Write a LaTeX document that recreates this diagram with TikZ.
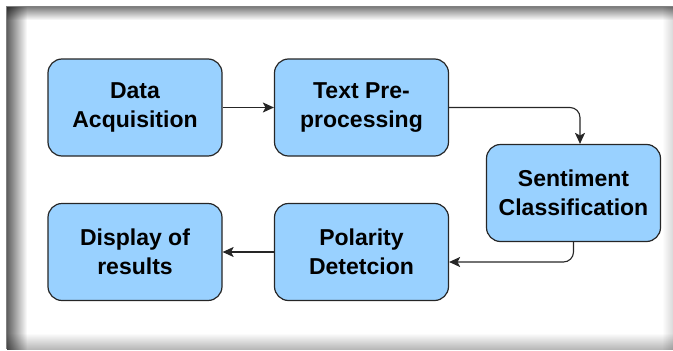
\documentclass[tikz,border=0pt]{standalone}
\usepackage{fontspec}
\setmainfont{Liberation Sans}
\usepackage{tikz}
\usetikzlibrary{arrows.meta}

\definecolor{boxblue}{HTML}{99D1FF}

\begin{document}
\begin{tikzpicture}[x=1pt, y=-1pt, >={Stealth[length=11pt, width=10pt, inset=2.5pt]},
	stagebox/.style={draw=black!85, line width=1.2pt, fill=boxblue, rounded corners=14pt,
		minimum width=174pt, minimum height=97pt, inner sep=0pt, align=center,
		font=\fontsize{23}{29}\selectfont\bfseries},
	flow/.style={->, line width=1.1pt, black!85}]
		\useasboundingbox (0,0) rectangle (673,351);
		% frame with shadows
		\begin{scope}[blend mode=multiply]
			\shade[top color=white, bottom color=black!28] (7,333) rectangle (673,349);
			\shade[left color=white, right color=black!15] (662,7) rectangle (673,349);
			\shade[top color=black!50, bottom color=white] (7,7) rectangle (673,20);
			\shade[left color=black!62, right color=white] (7,7) rectangle (27,349);
		\end{scope}
		\draw[black!50, line width=1pt] (6.5,349) -- (6.5,6.5) -- (673,6.5);

		\node[stagebox] (acq) at (135,107.5) {Data\\Acquisition};
		\node[stagebox] (prep) at (361.5,107.5) {Text Pre-\\processing};
		\node[stagebox] (cls) at (573.5,193) {Sentiment\\Classification};
		\node[stagebox] (pol) at (361.5,252) {Polarity\\Detetcion};
		\node[stagebox] (res) at (135,252) {Display of\\results};

		\draw[flow] (acq) -- (prep);
		\draw[flow, rounded corners=10pt] (prep.east) -| ([xshift=6.5pt]cls.north);
		\draw[flow, rounded corners=10pt] (cls.south) |- ([yshift=-10pt]pol.east);
		\draw[flow] (pol) -- (res);
	\end{tikzpicture}
\end{document}
